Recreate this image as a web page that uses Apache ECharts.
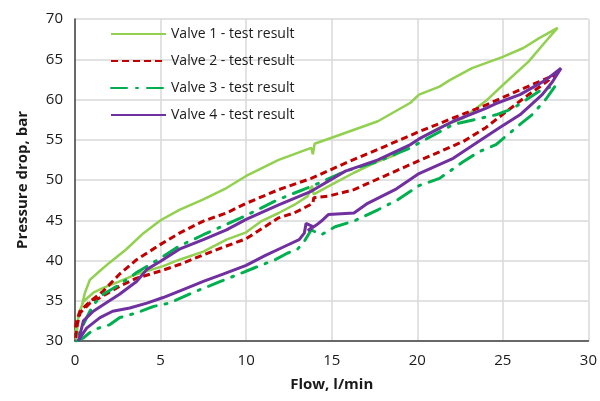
<!DOCTYPE html>
<html>
<head>
<meta charset="utf-8">
<script src="https://cdn.jsdelivr.net/npm/echarts@6/dist/echarts.min.js"></script>
<style>
  html, body { margin: 0; padding: 0; background: #fff; }
  #pressureChart { width: 600px; height: 401px; }
</style>
</head>
<body>
<div id="pressureChart"></div>
<script>
// [flow l/min, pressure drop bar] - rising branch then return branch
const valve1 = [
  [0.05, 30.2], [0.1, 30.8], [0.2, 33.3], [0.49, 34.9], [1.07, 36.0], [1.65, 36.6], [2.6, 37.4],
  [3.6, 38.3], [4.2, 38.7], [5.15, 39.3], [6.1, 40.1], [7.5, 41.1], [8.85, 42.6], [10, 43.5],
  [10.9, 44.9], [11.9, 45.9], [12.8, 46.9], [13.6, 48.0], [13.85, 49.3], [13.95, 48.2], [14.1, 48.4],
  [14.8, 49.2], [16.3, 50.9], [17.7, 52.3], [18.7, 53.1], [20.1, 55.1], [21.3, 56.5], [22.7, 57.7],
  [24, 59.8], [25, 61.8], [26.5, 64.7], [27.5, 67.2], [28.2, 68.9],
  [27.1, 67.6], [26.2, 66.4], [25, 65.3], [23.2, 63.9], [21.9, 62.4], [21.3, 61.6], [20.1, 60.6],
  [19.6, 59.6], [17.7, 57.3], [15.2, 55.4], [14.0, 54.5], [13.9, 53.2], [13.8, 54.0], [11.9, 52.5],
  [10, 50.5], [8.85, 49.0], [7.5, 47.6], [6.1, 46.3], [5, 45.0], [4.0, 43.4], [3.0, 41.4],
  [2.0, 39.7], [1.4, 38.6], [0.87, 37.6], [0.58, 36.0], [0.39, 34.3], [0.15, 32.5], [0.02, 31.0]
];
const valve2 = [
  [0.05, 30.4], [0.1, 31.7], [0.3, 33.5], [0.87, 34.7], [1.65, 35.6], [2.6, 36.8], [3.6, 37.8],
  [5, 38.7], [6.1, 39.5], [7.5, 40.7], [8.85, 41.8], [10, 42.7], [11.9, 45.3], [12.8, 45.9],
  [13.9, 47.1], [13.95, 47.8], [14.8, 48.0], [16.3, 48.8], [18.3, 50.7], [20.1, 52.4], [21.3, 53.5],
  [22.7, 54.8], [24, 56.5], [25.2, 58.5], [26.5, 60.6], [27.3, 61.8], [28.1, 63.1],
  [27.1, 62.2], [26, 61.2], [24, 59.3], [22.1, 57.7], [20.1, 56.0], [17.7, 53.8], [15.8, 52.1],
  [13.8, 50.2], [11.9, 48.8], [10, 47.1], [8.85, 45.9], [7.5, 44.9], [6.1, 43.4], [5, 42.0],
  [3.6, 40.1], [2.6, 38.3], [1.65, 36.2], [0.87, 34.9], [0.29, 33.7], [0.1, 32.5], [0.02, 31.5]
];
const valve3 = [
  [0.1, 30.0], [0.5, 30.4], [1.07, 31.4], [2.0, 32.0], [2.6, 32.9], [3.6, 33.5], [4.6, 34.3],
  [5.5, 34.7], [7.1, 36.2], [8.5, 37.4], [9.8, 38.5], [10.5, 39.1], [11.7, 40.1], [12.4, 40.9],
  [13.0, 41.4], [13.4, 42.4], [13.8, 43.8], [14.4, 43.2], [15.2, 44.2], [16.3, 44.9], [17.7, 46.3],
  [18.9, 47.6], [20.1, 49.3], [21.3, 50.2], [22.7, 52.3], [23.6, 53.5], [24.6, 54.4], [26, 56.9],
  [26.7, 58.1], [27.5, 60.0], [28.1, 61.8],
  [27.1, 61.0], [25.6, 58.9], [24.6, 58.1], [22.1, 56.9], [20.1, 54.6], [19.6, 54.0], [17.7, 52.3],
  [15.8, 51.1], [13.8, 49.2], [11.9, 47.6], [10, 45.6], [8.85, 44.5], [7.5, 43.2], [6.1, 41.8],
  [5, 40.3], [3.6, 38.5], [2.6, 37.0], [1.65, 35.8], [1.07, 34.5], [0.68, 32.9], [0.3, 31.2], [0.1, 30.2]
];
const valve4 = [
  [0.2, 30.0], [0.3, 30.4], [0.68, 31.6], [1.46, 32.9], [2.2, 33.7], [3.2, 34.1], [4.2, 34.7],
  [5.15, 35.4], [6.1, 36.2], [7.5, 37.4], [8.65, 38.3], [10, 39.4], [11.1, 40.6], [12.3, 41.8],
  [13.1, 42.6], [13.4, 43.4], [13.5, 44.6], [13.9, 44.2], [13.6, 43.7], [14.1, 44.4], [14.4, 44.9],
  [14.8, 45.7], [16.3, 45.9], [17.1, 47.1], [18.7, 48.8], [20.1, 50.8], [22.1, 52.7], [23.6, 54.8],
  [24.8, 56.5], [26, 58.1], [27.3, 60.6], [27.9, 62.2], [28.4, 63.9],
  [27.5, 62.4], [26, 60.6], [24.6, 59.5], [24, 58.9], [22.1, 57.3], [20.1, 55.1], [19.6, 54.4],
  [17.7, 52.5], [15.8, 51.1], [13.8, 48.6], [11.9, 46.9], [10, 45.1], [8.85, 43.8], [7.5, 42.6],
  [6.1, 41.4], [5, 39.9], [4.2, 38.9], [3.6, 37.4], [2.6, 35.8], [1.65, 34.5], [1.07, 33.7],
  [0.49, 32.5], [0.2, 30.0]
];
const seriesNames = ['Valve 1 - test result', 'Valve 2 - test result', 'Valve 3 - test result', 'Valve 4 - test result'];
const xTicks = [0, 5, 10, 15, 20, 25, 30];
const yTicks = [30, 35, 40, 45, 50, 55, 60, 65, 70];

const chart = echarts.init(document.getElementById('pressureChart'));
const font = '"Open Sans", "Noto Sans", sans-serif';

const option = {
  animation: false,
  textStyle: { fontFamily: font },
  grid: { left: 75, right: 11, top: 19, bottom: 60 },
  legend: {
    orient: 'vertical',
    left: 105,
    top: 22,
    itemWidth: 55,
    itemHeight: 12,
    itemGap: 13,
    itemStyle: { opacity: 0 },
    textStyle: { fontSize: 14, color: '#1a1a1a', fontFamily: font },
    data: seriesNames,
  },
  xAxis: {
    type: 'value',
    min: xTicks[0],
    max: xTicks[xTicks.length - 1],
    interval: 5,
    name: 'Flow, l/min',
    nameLocation: 'middle',
    nameGap: 36,
    nameTextStyle: { fontSize: 15, fontWeight: 'bold', color: '#1a1a1a' },
    axisLine: { lineStyle: { color: '#404040', width: 1.5 } },
    axisTick: { show: false },
    axisLabel: { fontSize: 15, color: '#1a1a1a', margin: 12 },
    splitLine: { lineStyle: { color: '#d9d9d9', width: 1.5 } },
  },
  yAxis: {
    type: 'value',
    min: yTicks[0],
    max: yTicks[yTicks.length - 1],
    interval: 5,
    name: 'Pressure drop, bar',
    nameLocation: 'middle',
    nameGap: 45,
    nameTextStyle: { fontSize: 15, fontWeight: 'bold', color: '#1a1a1a' },
    axisLine: { show: true, lineStyle: { color: '#404040', width: 1.5 } },
    axisTick: { show: false },
    axisLabel: { fontSize: 15, color: '#1a1a1a', margin: 12 },
    splitLine: { lineStyle: { color: '#d9d9d9', width: 1.5 } },
  },
  series: [
    {
      name: seriesNames[0],
      type: 'line',
      data: valve1,
      symbol: 'none',
      color: '#92d050',
      lineStyle: { width: 2.5 },
    },
    {
      name: seriesNames[1],
      type: 'line',
      data: valve2,
      symbol: 'none',
      color: '#c00000',
      lineStyle: { width: 3, type: [7, 4] },
    },
    {
      name: seriesNames[2],
      type: 'line',
      data: valve3,
      symbol: 'none',
      color: '#00b050',
      lineStyle: { width: 3, type: [16, 9, 2, 9], cap: 'round' },
    },
    {
      name: seriesNames[3],
      type: 'line',
      data: valve4,
      symbol: 'none',
      color: '#7030a0',
      lineStyle: { width: 3 },
    },
  ],
};
chart.setOption(option);
window.addEventListener('resize', () => {
  chart.resize();
});
</script>
</body>
</html>
